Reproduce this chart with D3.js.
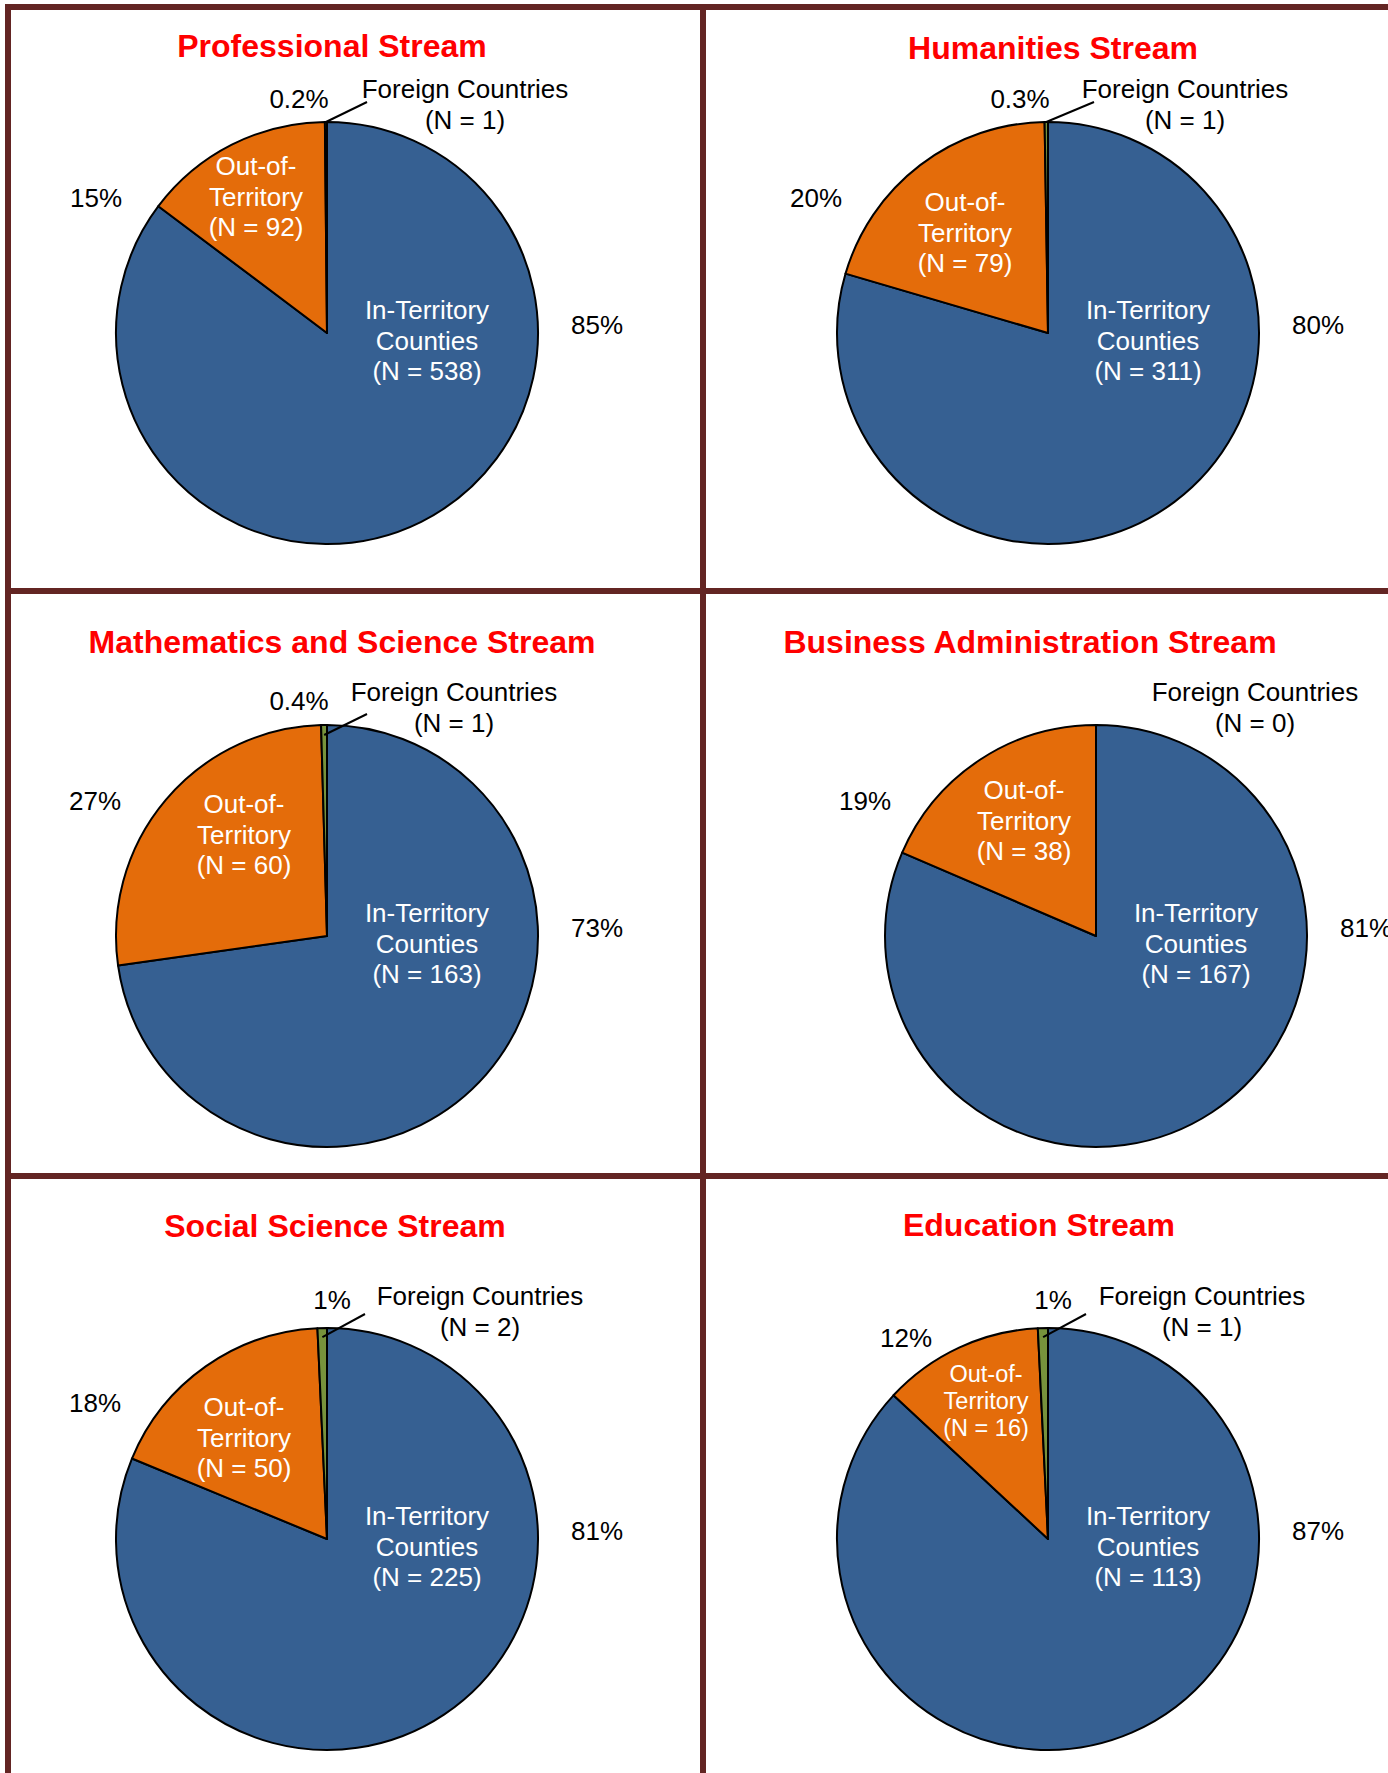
<!DOCTYPE html>
<html>
<head>
<meta charset="utf-8">
<script src="https://cdn.jsdelivr.net/npm/d3@7"></script>
<style>
  body { margin: 0; background: #fff; }
  svg text { font-family: 'Liberation Sans', Arial, sans-serif; }
</style>
</head>
<body>
<svg id="chart" width="1388" height="1773"></svg>
<script>
// Values
const streams = [
  'Professional Stream', 'Humanities Stream',
  'Mathematics and Science Stream', 'Business Administration Stream',
  'Social Science Stream', 'Education Stream',
];
const categories = ['In-Territory Counties', 'Out-of-Territory', 'Foreign Countries'];
const inTerritory = [538, 311, 163, 167, 225, 113];
const outTerritory = [92, 79, 60, 38, 50, 16];
const foreign = [1, 1, 1, 0, 2, 1];
const pctLabels = [
  ['85%', '15%', '0.2%'],
  ['80%', '20%', '0.3%'],
  ['73%', '27%', '0.4%'],
  ['81%', '19%', ''],
  ['81%', '18%', '1%'],
  ['87%', '12%', '1%'],
];

const colors = d3.scaleOrdinal()
  .domain(categories)
  .range(['#366092', '#E46C0A', '#77933C']);

// Page layout: grid lines and where each panel puts its pie and labels
const frame = { cols: [8, 703], rows: [7, 591, 1176], color: '#632523', width: 6 };
const radius = 211;
const layout = [
  { cx: 327, cy: 333, title: [332, 57], out: [-71, -158, 26], outPct: [-231, -126], fPct: [-28, -225], fLab: [138, -235], leader: [211, 40, -231] },
  { cx: 1048, cy: 333, title: [1053, 59], out: [-83, -122, 26], outPct: [-232, -126], fPct: [-28, -225], fLab: [137, -235], leader: [211, 46, -231] },
  { cx: 327, cy: 936, title: [342, 653], out: [-83, -123, 26], outPct: [-232, -126], fPct: [-28, -226], fLab: [127, -235], leader: [201, 40, -222] },
  { cx: 1096, cy: 936, title: [1030, 653], out: [-72, -137, 26], outPct: [-231, -126], fPct: null, fLab: [159, -235], leader: null },
  { cx: 327, cy: 1539, title: [335, 1237], out: [-83, -123, 26], outPct: [-232, -127], fPct: [5, -230], fLab: [153, -234], leader: [202, 38, -225] },
  { cx: 1048, cy: 1539, title: [1039, 1236], out: [-62, -157, 23.5], outPct: [-142, -192], fPct: [5, -230], fLab: [154, -234], leader: [202, 38, -225] },
];

const svg = d3.select('#chart');

const pie = d3.pie().sort(null).value((d) => d.value);
const arc = d3.arc().innerRadius(0).outerRadius(radius);

const lineH = 30.5;

streams.forEach((name, i) => {
  const L = layout[i];
  const vals = [inTerritory[i], outTerritory[i], foreign[i]];
  const arcs = pie(categories.map((c, k) => ({ key: c, value: vals[k] })));

  const g = svg.append('g').attr('transform', `translate(${L.cx},${L.cy})`);

  // title
  svg.append('text')
    .attr('x', L.title[0])
    .attr('y', L.title[1])
    .attr('text-anchor', 'middle')
    .attr('font-size', 32)
    .attr('font-weight', 'bold')
    .attr('fill', '#FF0000')
    .text(name);

  // slices
  g.selectAll('path')
    .data(arcs.filter((d) => d.value > 0))
    .join('path')
    .attr('d', arc)
    .attr('fill', (d) => colors(d.data.key))
    .attr('stroke', '#000')
    .attr('stroke-width', 2)
    .attr('stroke-linejoin', 'round');

  const lines = (parent, rows, x, y, size, lh, fill) => {
    rows.forEach((t, j) => {
      parent.append('text')
        .attr('x', x)
        .attr('y', y + j * lh)
        .attr('text-anchor', 'middle')
        .attr('font-size', size)
        .attr('fill', fill)
        .text(t);
    });
  };

  // labels inside slices
  lines(g, ['In-Territory', 'Counties', `(N = ${vals[0]})`], 100, -14, 26, lineH, '#fff');
  const outLh = L.out[2] < 26 ? 27 : lineH;
  lines(g, ['Out-of-', 'Territory', `(N = ${vals[1]})`], L.out[0], L.out[1], L.out[2], outLh, '#fff');

  // percentages outside
  lines(g, [pctLabels[i][0]], 270, 1, 26, lineH, '#000');
  lines(g, [pctLabels[i][1]], L.outPct[0], L.outPct[1], 26, lineH, '#000');
  if (L.fPct) lines(g, [pctLabels[i][2]], L.fPct[0], L.fPct[1], 26, lineH, '#000');

  // foreign countries callout
  lines(g, ['Foreign Countries', `(N = ${vals[2]})`], L.fLab[0], L.fLab[1], 26, lineH, '#000');
  if (L.leader) {
    const a = (arcs[2].startAngle + arcs[2].endAngle) / 2;
    g.append('line')
      .attr('x1', L.leader[0] * Math.sin(a))
      .attr('y1', -L.leader[0] * Math.cos(a))
      .attr('x2', L.leader[1])
      .attr('y2', L.leader[2])
      .attr('stroke', '#000')
      .attr('stroke-width', 2);
  }
});

// frame lines
const fw = frame.width;
frame.cols.forEach((x) => {
  svg.append('line')
    .attr('x1', x).attr('x2', x)
    .attr('y1', frame.rows[0] - fw / 2).attr('y2', 1773)
    .attr('stroke', frame.color).attr('stroke-width', fw);
});
frame.rows.forEach((y) => {
  svg.append('line')
    .attr('x1', frame.cols[0] - fw / 2).attr('x2', 1388)
    .attr('y1', y).attr('y2', y)
    .attr('stroke', frame.color).attr('stroke-width', fw);
});
</script>
</body>
</html>
